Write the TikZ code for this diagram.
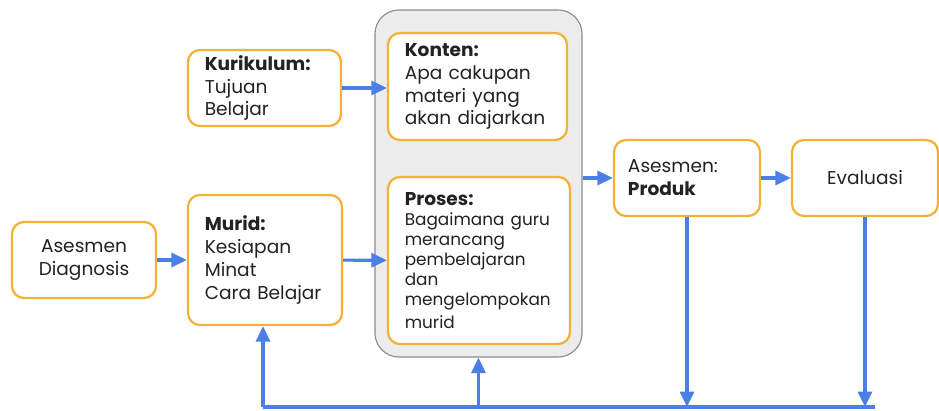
\documentclass[tikz,border=0pt]{standalone}
\usepackage{fontspec}
\setmainfont{Poppins}
\usetikzlibrary{arrows.meta,positioning}
\definecolor{oranye}{HTML}{F2B233}
\definecolor{biru}{HTML}{4A7FE5}
\definecolor{abu}{HTML}{ECECEC}
\definecolor{garisabu}{HTML}{8C8C8C}
\definecolor{tinta}{HTML}{222222}
\setlength{\normallineskiplimit}{-20pt}
\newcommand{\rapat}{\lineskiplimit=-20pt\relax}
\newcommand{\kecil}{\fontsize{12pt}{14.2pt}\selectfont\rapat}
\tikzset{>={Triangle[length=11pt,width=10pt]},
  kotak/.style={draw=oranye,line width=1.6pt,rounded corners=0.3cm,fill=white,
    text=tinta,inner xsep=0.42cm,inner ysep=0pt,
    font=\fontsize{13.2pt}{16.3pt}\selectfont\rapat},
  panah/.style={->,draw=biru,line width=2.2pt}}

\begin{document}
\begin{tikzpicture}[x=0.025cm,y=-0.025cm]
        \useasboundingbox (0,0) rectangle (939,411);
        % wadah abu-abu di belakang konten dan proses
        \node[draw=garisabu,fill=abu,line width=0.8pt,rounded corners=0.6cm,
          minimum width=5.175cm,minimum height=8.675cm] (wadah) at (478.5,183.5) {};

        \node[kotak,align=center,minimum width=3.6cm,minimum height=1.9cm] (diagnosis) at (84,260) {Asesmen\\Diagnosis};
        \node[kotak,align=left,text width=3.01cm,minimum height=3.25cm] (murid) at (265,260) {\textbf{Murid:}\\Kesiapan\\Minat\\Cara Belajar};
        \node[kotak,align=left,text width=2.985cm,minimum height=1.9cm] (kurikulum) at (264.5,88) {\textbf{Kurikulum:}\\Tujuan\\Belajar};

        \node[kotak,align=left,text width=3.635cm,minimum height=2.675cm] (konten) at (477.5,86.5) {\textbf{Konten:}\\Apa cakupan\\materi yang\\akan diajarkan};
        \node[kotak,align=left,text width=3.71cm,minimum height=4.175cm] (proses) at (479,260.5) {\rapat\textbf{Proses:}\\\kecil Bagaimana guru\\merancang\\pembelajaran\\dan\\mengelompokan\\murid};

        \node[kotak,align=left,inner xsep=0.35cm,text width=2.95cm,minimum height=1.9cm] (produk) at (687,178) {Asesmen:\\\textbf{Produk}};
        \node[kotak,align=center,minimum width=3.65cm,minimum height=1.9cm] (evaluasi) at (865,178) {Evaluasi};

        \coordinate (kiri) at (263,407);
        \coordinate (kanan) at (875,407);

        \draw[panah] (diagnosis) -- (murid);
        \draw[panah] (kurikulum.east) -- (kurikulum.east -| konten.west);
        \draw[panah] (murid) -- (proses);
        \draw[panah] (wadah.east |- produk.west) -- (produk.west);
        \draw[panah] (produk) -- (evaluasi);

        \draw[panah] (produk.south) -- (produk.south |- kiri);
        \draw[panah] (evaluasi.south) -- (evaluasi.south |- kiri);
        \draw[draw=biru,line width=2.2pt] (kiri) -- (kanan);
        \draw[panah] (kiri) -- (kiri |- murid.south);
        \draw[panah] (wadah.south |- kiri) -- (wadah.south);
      \end{tikzpicture}
\end{document}
